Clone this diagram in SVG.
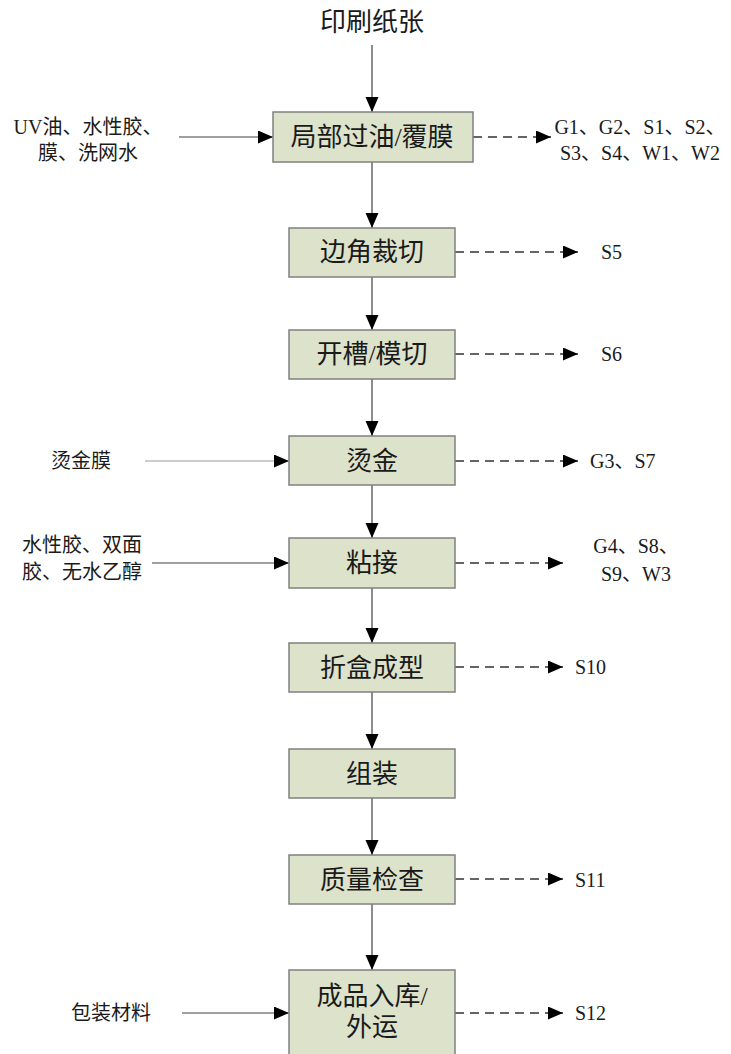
<svg xmlns="http://www.w3.org/2000/svg" width="731" height="1054" viewBox="0 0 731 1054">
<style>
.box{fill:#dde2cb;stroke:#808080;stroke-width:1.5}
.t{font-family:"Liberation Serif","Noto Sans CJK SC",serif;fill:#1a1a1a}
.bt{font-size:26px;text-anchor:middle}
.lt{font-size:20px}
.ln{stroke:#404040;stroke-width:1.2;fill:none}
.ds{stroke:#333;stroke-width:1.3;fill:none;stroke-dasharray:9,6}
</style>
<defs>
<marker id="ah" markerUnits="userSpaceOnUse" markerWidth="16" markerHeight="14" refX="15" refY="6.5" orient="auto">
<path d="M0,0 L15,6.5 L0,13 z" fill="#000"/>
</marker>
</defs>
<rect width="731" height="1054" fill="#fff"/>
<g id="connectors">
<path class="ln" d="M372,45 V112" marker-end="url(#ah)"/>
<path class="ln" d="M372,162 V228" marker-end="url(#ah)"/>
<path class="ln" d="M372,277 V330" marker-end="url(#ah)"/>
<path class="ln" d="M372,379 V436" marker-end="url(#ah)"/>
<path class="ln" d="M372,485 V538" marker-end="url(#ah)"/>
<path class="ln" d="M372,588 V643" marker-end="url(#ah)"/>
<path class="ln" d="M372,692 V749" marker-end="url(#ah)"/>
<path class="ln" d="M372,798 V855" marker-end="url(#ah)"/>
<path class="ln" d="M372,904 V970" marker-end="url(#ah)"/>
<path class="ln" d="M179,137 H273" marker-end="url(#ah)"/>
<path class="ln" d="M145,461 H289" marker-end="url(#ah)" style="stroke:#9a9a9a"/>
<path class="ln" d="M152,563 H289" marker-end="url(#ah)"/>
<path class="ln" d="M182,1013 H289" marker-end="url(#ah)"/>
<path class="ds" d="M473,137 H551" marker-end="url(#ah)"/>
<path class="ds" d="M455,252 H578" marker-end="url(#ah)"/>
<path class="ds" d="M455,354 H578" marker-end="url(#ah)"/>
<path class="ds" d="M455,461 H578" marker-end="url(#ah)"/>
<path class="ds" d="M455,563 H563" marker-end="url(#ah)"/>
<path class="ds" d="M455,667 H563" marker-end="url(#ah)"/>
<path class="ds" d="M455,879 H563" marker-end="url(#ah)"/>
<path class="ds" d="M455,1013 H563" marker-end="url(#ah)"/>
</g>
<g id="input-paper"><text class="t bt" x="372" y="31">印刷纸张</text></g>
<g id="n1"><rect class="box" x="273" y="112" width="200" height="50"/><text class="t bt" x="372" y="146">局部过油/覆膜</text></g>
<g id="n2"><rect class="box" x="289" y="228" width="166" height="49"/><text class="t bt" x="372" y="261">边角裁切</text></g>
<g id="n3"><rect class="box" x="289" y="330" width="166" height="49"/><text class="t bt" x="372" y="363">开槽/模切</text></g>
<g id="n4"><rect class="box" x="289" y="436" width="166" height="49"/><text class="t bt" x="372" y="470">烫金</text></g>
<g id="n5"><rect class="box" x="289" y="538" width="166" height="50"/><text class="t bt" x="372" y="572">粘接</text></g>
<g id="n6"><rect class="box" x="289" y="643" width="166" height="49"/><text class="t bt" x="372" y="677">折盒成型</text></g>
<g id="n7"><rect class="box" x="289" y="749" width="166" height="49"/><text class="t bt" x="372" y="783">组装</text></g>
<g id="n8"><rect class="box" x="289" y="855" width="166" height="49"/><text class="t bt" x="372" y="889">质量检查</text></g>
<g id="n9"><rect class="box" x="289" y="970" width="166" height="90"/><text class="t bt" x="372" y="1005">成品入库/</text><text class="t bt" x="372" y="1036">外运</text></g>
<g id="in1"><text class="t lt" x="88" y="134" text-anchor="middle">UV油、水性胶、</text><text class="t lt" x="88" y="160" text-anchor="middle">膜、洗网水</text></g>
<g id="in4"><text class="t lt" x="51" y="468">烫金膜</text></g>
<g id="in5"><text class="t lt" x="82" y="552" text-anchor="middle">水性胶、双面</text><text class="t lt" x="82" y="579" text-anchor="middle">胶、无水乙醇</text></g>
<g id="in9"><text class="t lt" x="71" y="1020">包装材料</text></g>
<g id="out1"><text class="t lt" x="640" y="134" text-anchor="middle">G1、G2、S1、S2、</text><text class="t lt" x="640" y="160" text-anchor="middle">S3、S4、W1、W2</text></g>
<g id="out2"><text class="t lt" x="601" y="259">S5</text></g>
<g id="out3"><text class="t lt" x="601" y="361">S6</text></g>
<g id="out4"><text class="t lt" x="590" y="468">G3、S7</text></g>
<g id="out5"><text class="t lt" x="636" y="553" text-anchor="middle">G4、S8、</text><text class="t lt" x="636" y="581" text-anchor="middle">S9、W3</text></g>
<g id="out6"><text class="t lt" x="575" y="674">S10</text></g>
<g id="out8"><text class="t lt" x="575" y="887">S11</text></g>
<g id="out9"><text class="t lt" x="575" y="1020">S12</text></g>
</svg>
